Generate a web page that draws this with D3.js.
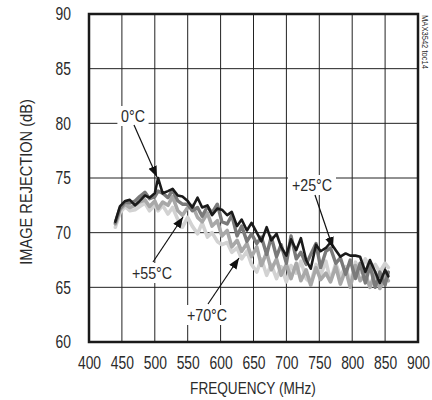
<!DOCTYPE html>
<html>
<head>
<meta charset="utf-8">
<script src="https://cdn.jsdelivr.net/npm/d3@7"></script>
<style>
body { margin: 0; background: #fff; }
text { font-family: "Liberation Sans", Arial, sans-serif; fill: #2a2a2a; }
</style>
</head>
<body>
<script>
const WIDTH = 432, HEIGHT = 400;
const LEFT = 89, RIGHT = 418, TOP = 14, BOTTOM = 342;

var freqs = [440,447,455,462,470,477,485,492,500,505,512,520,527,535,542,550,557,565,572,580,587,595,602,610,617,625,632,640,647,655,662,670,677,685,692,700,707,715,722,730,737,745,752,760,767,775,782,790,797,805,812,820,827,835,842,850,855];

var xTicks = [400,450,500,550,600,650,700,750,800,850,900];
var yTicks = [60,65,70,75,80,85,90];

var t0  = [71.0,72.4,72.9,73.0,72.5,72.9,73.4,73.2,73.6,75.0,73.6,73.8,74.0,73.4,73.3,72.9,72.3,73.2,72.3,72.5,71.6,72.2,72.1,71.6,71.9,70.6,71.2,70.2,70.9,70.0,69.2,70.5,69.3,69.9,68.7,67.9,69.4,68.4,69.5,67.5,66.7,68.9,68.3,68.6,69.1,68.4,67.8,68.1,67.9,67.9,67.8,66.4,67.5,66.4,65.4,66.6,66.0];
var t25 = [70.9,72.2,72.8,72.7,72.9,73.3,73.7,73.1,73.3,73.8,73.6,73.2,73.9,72.9,72.6,72.6,72.0,72.3,71.5,72.4,71.8,72.6,71.0,70.8,71.6,69.7,70.6,69.2,69.9,69.0,69.6,68.0,69.6,67.8,68.9,67.2,69.7,67.6,68.2,67.1,68.0,69.0,66.8,68.3,68.6,67.2,67.7,66.2,67.5,65.8,67.2,65.4,67.0,65.0,66.4,65.2,66.4];
var t55 = [70.8,72.1,72.6,72.3,72.5,72.8,73.0,72.4,72.9,72.2,72.8,72.5,73.3,72.0,71.6,72.3,72.5,71.4,71.0,71.8,70.6,71.1,69.7,70.2,68.7,69.3,68.3,69.0,67.8,68.7,67.0,68.2,66.6,67.6,66.1,67.1,65.8,67.2,65.6,66.6,65.2,66.8,65.7,66.3,65.5,66.9,65.3,66.6,65.0,67.0,65.6,66.2,65.0,66.4,64.9,66.0,65.6];
var t70 = [70.5,71.8,72.4,72.0,72.1,72.4,72.7,72.0,72.5,72.0,72.5,71.7,72.3,71.2,70.5,71.4,70.6,69.9,70.9,69.6,70.0,69.2,68.9,69.1,68.2,68.6,67.6,68.3,67.1,66.4,67.6,66.1,67.1,65.8,66.9,65.5,67.0,66.3,67.4,65.8,65.4,67.1,66.1,67.4,65.6,67.2,66.0,66.9,65.4,67.3,66.4,67.6,66.7,67.1,66.4,67.2,66.8];

var seriesList = [
	{name:'+70', values:t70, color:'#d2d2d2', width:3.6},
	{name:'+55', values:t55, color:'#a8a8a8', width:3.6},
	{name:'+25', values:t25, color:'#7a7a7a', width:3.4},
	{name:'0', values:t0, color:'#1a1a1a', width:2.6}
];

var labels = [
	{text:'0°C', x:133, y:116, ax1:134, ay1:125, ax2:157, ay2:177},
	{text:'+25°C', x:312, y:185, ax1:315, ay1:195, ax2:333, ay2:248},
	{text:'+55°C', x:152, y:273, ax1:153, ay1:262, ax2:183, ay2:217},
	{text:'+70°C', x:207, y:315, ax1:208, ay1:304, ax2:239, ay2:258}
];

// squeeze text horizontally round its anchor point, to look like the narrow typeface
var condense = function(sel, k){
	sel.each(function(){
		var ax = +this.getAttribute('x') || 0, ay = +this.getAttribute('y') || 0;
		var t = this.getAttribute('transform') || '';
		this.setAttribute('transform', t + ' translate(' + ax + ',' + ay + ') scale(' + k + ',1) translate(' + (-ax) + ',' + (-ay) + ')');
	});
}

var svg = d3.select('body').append('svg')
	.attr('width', WIDTH)
	.attr('height', HEIGHT);

var x = d3.scaleLinear().domain([400, 900]).range([LEFT, RIGHT]);
var y = d3.scaleLinear().domain([60, 90]).range([BOTTOM, TOP]);

// grid
svg.append('g').selectAll('line')
	.data(xTicks.slice(1, -1)).enter().append('line')
	.attr('x1', d => x(d)).attr('x2', d => x(d))
	.attr('y1', TOP).attr('y2', BOTTOM)
	.attr('stroke', '#222').attr('stroke-width', 1);
svg.append('g').selectAll('line')
	.data(yTicks.slice(1, -1)).enter().append('line')
	.attr('y1', d => y(d)).attr('y2', d => y(d))
	.attr('x1', LEFT).attr('x2', RIGHT)
	.attr('stroke', '#222').attr('stroke-width', 1);

// series
var line = d3.line()
	.x((d, i) => x(freqs[i]))
	.y(d => y(d));
svg.append('g').selectAll('path')
	.data(seriesList).enter().append('path')
	.attr('d', d => line(d.values))
	.attr('fill', 'none')
	.attr('stroke', d => d.color)
	.attr('stroke-width', d => d.width)
	.attr('stroke-linejoin', 'round')
	.attr('stroke-linecap', 'round');

// border
svg.append('rect')
	.attr('x', LEFT).attr('y', TOP)
	.attr('width', RIGHT - LEFT).attr('height', BOTTOM - TOP)
	.attr('fill', 'none').attr('stroke', '#1a1a1a').attr('stroke-width', 2.5);

// axes
var xAxis = d3.axisBottom(x).tickValues(xTicks).tickSize(0).tickPadding(14);
svg.append('g').attr('transform', 'translate(0,' + BOTTOM + ')').call(xAxis)
	.call(g => g.select('.domain').remove())
	.selectAll('text').style('font-size', '18px').attr('fill', '#2a2a2a')
	.call(condense, 0.77);
var yAxis = d3.axisLeft(y).tickValues(yTicks).tickSize(0).tickPadding(18);
svg.append('g').attr('transform', 'translate(' + LEFT + ',0)').call(yAxis)
	.call(g => g.select('.domain').remove())
	.selectAll('text').style('font-size', '18px').attr('fill', '#2a2a2a')
	.call(condense, 0.77);
svg.selectAll('.tick text').attr('font-family', null);

svg.append('text')
	.attr('x', 253).attr('y', 394)
	.attr('text-anchor', 'middle').style('font-size', '16px')
	.text('FREQUENCY (MHz)')
	.call(condense, 0.85);
svg.append('text')
	.attr('transform', 'translate(32,182) rotate(-90)')
	.attr('text-anchor', 'middle').style('font-size', '17px')
	.text('IMAGE REJECTION (dB)')
	.call(condense, 0.86);
svg.append('text')
	.attr('transform', 'translate(422,15) rotate(90)')
	.attr('text-anchor', 'start').style('font-size', '9.5px')
	.text('MAX3542 toc14')
	.call(condense, 0.8);

// annotations
svg.append('defs').append('marker')
	.attr('id', 'arrow').attr('viewBox', '0 0 10 10')
	.attr('refX', 10).attr('refY', 5)
	.attr('markerWidth', 11).attr('markerHeight', 11)
	.attr('markerUnits', 'userSpaceOnUse')
	.attr('orient', 'auto')
	.append('path').attr('d', 'M0,1 L10,5 L0,9 Z').attr('fill', '#111');

var ann = svg.append('g').selectAll('g').data(labels).enter().append('g');
ann.append('rect')
	.attr('x', d => d.x - d.text.length * 4.2 - 3)
	.attr('y', d => d.y - 10)
	.attr('width', d => d.text.length * 8.4 + 6)
	.attr('height', 20)
	.attr('fill', '#fff');
ann.append('text')
	.attr('x', d => d.x).attr('y', d => d.y + 6)
	.attr('text-anchor', 'middle').style('font-size', '17px')
	.text(d => d.text)
	.call(condense, 0.84);
ann.append('line')
	.attr('x1', d => d.ax1).attr('y1', d => d.ay1)
	.attr('x2', d => d.ax2).attr('y2', d => d.ay2)
	.attr('stroke', '#111').attr('stroke-width', 1.2)
	.attr('marker-end', 'url(#arrow)');
</script>
</body>
</html>
